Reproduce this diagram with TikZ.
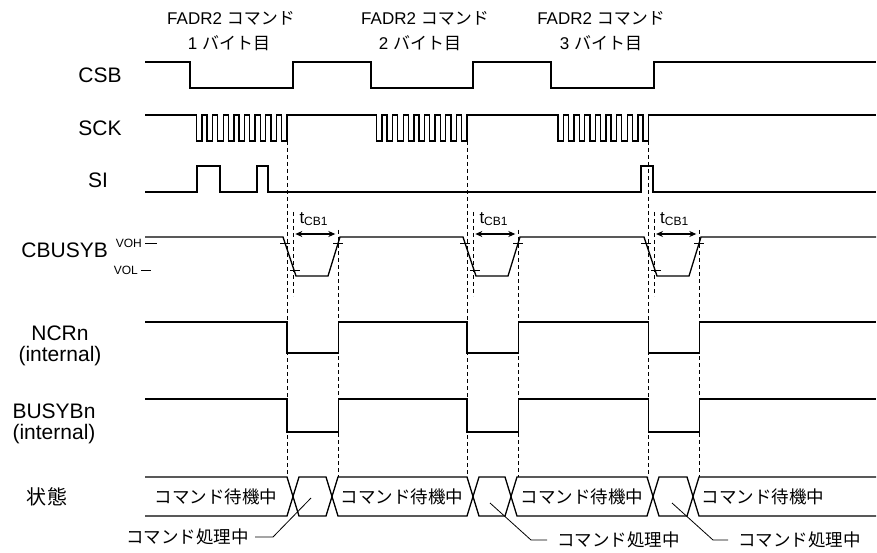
\documentclass[tikz,border=0pt]{standalone}
\usepackage{fontspec}
\setmainfont{Liberation Sans}
\newfontfamily\jpfont{Noto Sans CJK JP}
\usetikzlibrary{arrows.meta}

\begin{document}
\begin{tikzpicture}[
    x=1pt, y=-1pt,
    sig/.style={line width=1.3pt, line join=miter},
    guide/.style={line width=0.7pt, dash pattern=on 4pt off 3pt},
    tick/.style={line width=1pt},
    leader/.style={line width=0.8pt},
    siglabel/.style={font=\fontsize{21}{21}\selectfont, inner sep=0pt, align=center},
    head/.style={font=\fontsize{17}{17}\selectfont, inner sep=0pt},
    state/.style={font=\fontsize{17.5}{17.5}\selectfont\jpfont, inner sep=0pt},
    level/.style={font=\fontsize{12}{12}\selectfont, inner sep=0pt},
    arrow/.style={{Stealth[length=7pt,width=6pt]}-{Stealth[length=7pt,width=6pt]}, line width=1.3pt}
]
    \useasboundingbox (0,0) rectangle (877,553);

    % Headers
    \node[head] (head1a) at (231,18) {FADR2 {\jpfont コマンド}};
    \node[head] (head1b) at (229,43) {1 {\jpfont バイト目}};
    \node[head] (head2a) at (425,18) {FADR2 {\jpfont コマンド}};
    \node[head] (head2b) at (420,43) {2 {\jpfont バイト目}};
    \node[head] (head3a) at (601,18) {FADR2 {\jpfont コマンド}};
    \node[head] (head3b) at (601,43) {3 {\jpfont バイト目}};

    % Signal names
    \node[siglabel] (csb) at (100,75) {CSB};
    \node[siglabel] (sck) at (100,128) {SCK};
    \node[siglabel] (si) at (98,180) {SI};
    \node[siglabel, anchor=east] (cbusyb) at (108,250) {CBUSYB};
    \node[level, anchor=east] (voh) at (142,243) {VOH};
    \node[level, anchor=east] (vol) at (138,270) {VOL};
    \node[siglabel] (ncrn) at (60,346) {NCRn\\(internal)};
    \node[siglabel] (busybn) at (54,424) {BUSYBn\\(internal)};
    \node[siglabel, font=\fontsize{20}{20}\selectfont\jpfont] (state) at (47,497) {状態};

    % CSB
    \draw[sig] (145,62) -- (190,62) -- (190,88) -- (293,88) -- (293,62) -- (371,62) -- (371,88)
        -- (473,88) -- (473,62) -- (551,62) -- (551,88) -- (654,88) -- (654,62) -- (876,62);

    % SCK
    \draw[sig] (145,115)
        foreach \b in {196.5,376.5,558}{
            foreach \k in {0,...,8}{
                -- ({\b+10.625*\k},115) -- ({\b+10.625*\k},141)
                -- ({\b+10.625*\k+5.5},141) -- ({\b+10.625*\k+5.5},115)
            }
        } -- (876,115);

    % SI
    \draw[sig] (145,192) -- (197,192) -- (197,166) -- (220,166) -- (220,192) -- (257,192) -- (257,166)
        -- (268,166) -- (268,192) -- (641,192) -- (641,166) -- (653,166) -- (653,192) -- (876,192);

    % CBUSYB
    \draw[sig] (145,237) -- (283,237) -- (296,276) -- (328,276) -- (340,237) -- (463,237) -- (476,276)
        -- (508,276) -- (520,237) -- (644,237) -- (657,276) -- (689,276) -- (701,237) -- (876,237);
    \draw[tick] (145,243) -- (157,243);
    \draw[tick] (141,270) -- (151,270);
    \foreach \s in {0,180,361}{
        \draw[tick] (280+\s,243) -- (290+\s,243);
        \draw[tick] (290+\s,270) -- (300+\s,270);
        \draw[tick] (333+\s,243) -- (343+\s,243);
    }

    % NCRn
    \draw[sig] (145,322) -- (287,322) -- (287,353) -- (338.3,353) -- (338.3,322) -- (467,322) -- (467,353)
        -- (518.3,353) -- (518.3,322) -- (648.3,322) -- (648.3,353) -- (699.3,353) -- (699.3,322) -- (876,322);

    % BUSYBn
    \draw[sig] (145,399) -- (287,399) -- (287,432) -- (338.3,432) -- (338.3,399) -- (467,399) -- (467,432)
        -- (518.3,432) -- (518.3,399) -- (648.3,399) -- (648.3,432) -- (699.3,432) -- (699.3,399) -- (876,399);

    % State bus
    \draw[sig] (145,477) -- (287,477) -- (299,516) -- (326,516) -- (338,477) -- (467,477) -- (479,516)
        -- (505,516) -- (517,477) -- (647,477) -- (659,516) -- (687,516) -- (699,477) -- (876,477);
    \draw[sig] (145,516) -- (287,516) -- (299,477) -- (326,477) -- (338,516) -- (467,516) -- (479,477)
        -- (505,477) -- (517,516) -- (647,516) -- (659,477) -- (687,477) -- (699,516) -- (876,516);
    \node[state] (wait1) at (216,497) {コマンド待機中};
    \node[state] (wait2) at (402,497) {コマンド待機中};
    \node[state] (wait3) at (582,497) {コマンド待機中};
    \node[state] (wait4) at (763,497) {コマンド待機中};

    % Guides
    \foreach \a/\b/\c in {287/293.3/338.3, 467/473.3/518.3, 648.3/654/699.3}{
        \draw[guide] (\a,141) -- (\a,477);
        \draw[guide] (\b,212) -- (\b,296);
        \draw[guide] (\c,230) -- (\c,477);
    }

    % tCB1
    \foreach \b/\c/\n in {293.3/338.3/1, 473.3/518.3/2, 654/699.3/3}{
        \draw[arrow] (\b+2,234) -- (\c-3,234);
        \node[head, anchor=west] (tcb\n) at (\b+6,219) {t\textsubscript{\fontsize{12}{12}\selectfont CB1}};
    }

    % Processing labels
    \node[state, anchor=east] (proc1) at (249,537) {コマンド処理中};
    \node[state, anchor=west] (proc2) at (557,540) {コマンド処理中};
    \node[state, anchor=west] (proc3) at (738,540) {コマンド処理中};
    \coordinate (pt1) at (311,498);
    \coordinate (pt2) at (490,503);
    \coordinate (pt3) at (672,503);
    \draw[leader] (pt1) -- (273,537) -- ([xshift=6pt]proc1.east);
    \draw[leader] (pt2) -- (531,540) -- ([xshift=-10pt]proc2.west);
    \draw[leader] (pt3) -- (713,540) -- ([xshift=-10pt]proc3.west);

\end{tikzpicture}
\end{document}
